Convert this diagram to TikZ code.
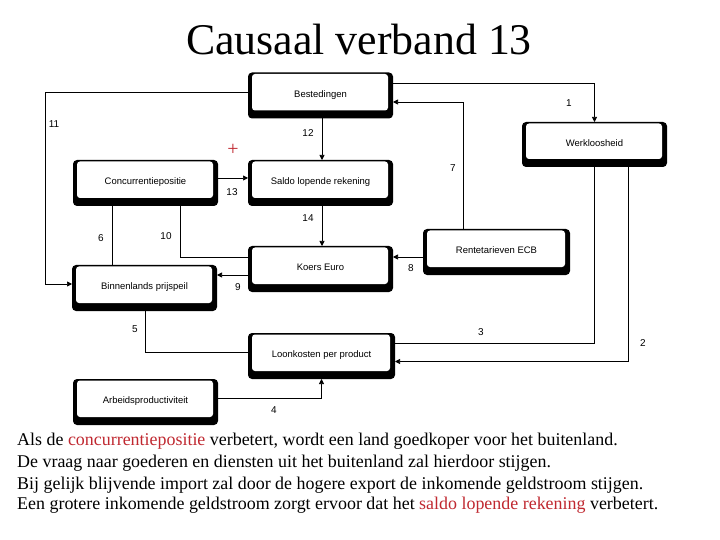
\documentclass[tikz,border=0pt]{standalone}
\usepackage{fontspec}
\setmainfont{Liberation Serif}
\newfontfamily\arialfont{Liberation Sans}
\usetikzlibrary{arrows.meta}
\definecolor{txtred}{RGB}{192,40,48}
\tikzset{
  bx/.style={rectangle, inner sep=0pt, outer sep=0pt, minimum height=46bp,
    font=\arialfont\fontsize{9.5}{11}\selectfont,
    path picture={
      \fill[black,rounded corners=4bp] (path picture bounding box.north west) rectangle (path picture bounding box.south east);
      \fill[white,rounded corners=3bp] ([shift={(4bp,-1.5bp)}]path picture bounding box.north west) rectangle ([shift={(-5bp,8bp)}]path picture bounding box.south east);
    }},
  con/.style={line width=0.7bp, draw=black},
  arr/.style={con, -{Triangle[length=5bp,width=5bp]}},
  num/.style={font=\arialfont\fontsize{10}{11}\selectfont, inner sep=0pt},
  para/.style={anchor=base west, inner sep=0pt, font=\fontsize{18}{20}\selectfont},
}
\newcommand{\rl}[1]{\raisebox{3bp}{#1}}
\begin{document}
\begin{tikzpicture}[x=1bp,y=-1bp]
\useasboundingbox (0,0) rectangle (720,540);
\fill[white] (0,0) rectangle (720,540);
% title
\node[anchor=base, inner sep=0pt, font=\fontsize{44}{48}\selectfont] (title) at (359,55) {Causaal verband 13};
% boxes
\node[bx, minimum width=145bp] (best)  at (320.5,95.5) {\rl{Bestedingen}};
\node[bx, minimum width=145bp] (saldo) at (320.5,183) {\rl{Saldo lopende rekening}};
\node[bx, minimum width=145bp] (conc)  at (145.5,183) {\rl{Concurrentiepositie}};
\node[bx, minimum width=145bp, minimum height=45bp] (werk) at (594.5,144.5) {\rl{Werkloosheid}};
\node[bx, minimum width=145bp] (koers) at (320.5,269) {\rl{Koers Euro}};
\node[bx, minimum width=145bp] (binn)  at (144.5,288) {\rl{Binnenlands prijspeil}};
\node[bx, minimum width=147bp] (rente) at (496.5,252) {\rl{Rentetarieven ECB}};
\node[bx, minimum width=147bp] (loon)  at (321.5,356) {\rl{Loonkosten per product}};
\node[bx, minimum width=145bp] (arb)   at (145.5,402) {\rl{Arbeidsproductiviteit}};
% connectors
\draw[arr] ([yshift=3.5bp]best.west) -- ++(-203,0) |- ([yshift=4bp]binn.west);
\draw[arr] ([xshift=1.5bp]best.south) -- ([xshift=1.5bp]saldo.north);
\draw[arr] ([yshift=12.5bp]best.east) -| (werk.north);
\coordinate (r7) at ([xshift=-33.5bp]rente.north);
\draw[arr] (r7) |- ([yshift=-6.5bp]best.east);
\draw[arr] ([yshift=5bp]conc.east) -- ([yshift=5bp]saldo.west);
\draw[arr] ([xshift=1.5bp]saldo.south) -- ([xshift=1.5bp]koers.north);
\coordinate (c6) at ([xshift=-33.5bp]conc.south);
\draw[con] (c6) -- (c6 |- binn.north);
\draw[con] ([yshift=12bp]koers.west) -| ([xshift=34.5bp]conc.south);
\coordinate (k9) at ([yshift=-6bp]koers.west);
\draw[arr] (k9) -- (k9 -| binn.east);
\coordinate (r8) at ([yshift=-5bp]rente.west);
\draw[arr] (r8) -- (r8 -| koers.east);
\draw[con] ([xshift=0.5bp]binn.south) |- ([yshift=4bp]loon.west);
\draw[con] (werk.south) |- ([yshift=12.5bp]loon.east);
\draw[arr] ([xshift=33.5bp]werk.south) |- ([yshift=-5.5bp]loon.east);
\draw[arr] ([yshift=4bp]arb.east) -| (loon.south);
% numbers
\node[num] (n1) at (569,103) {1};
\node[num] (n2) at (643,343) {2};
\node[num] (n3) at (481,332) {3};
\node[num] (n4) at (274,410) {4};
\node[num] (n5) at (135,329) {5};
\node[num] (n6) at (101,238) {6};
\node[num] (n7) at (453,168) {7};
\node[num] (n8) at (411,268) {8};
\node[num] (n9) at (238,287) {9};
\node[num] (n10) at (166,236) {10};
\node[num] (n11) at (54,124) {11};
\node[num] (n12) at (308,133) {12};
\node[num] (n13) at (232,192) {13};
\node[num] (n14) at (308,218) {14};
\node[inner sep=0pt, text=txtred, font=\fontsize{20}{22}\selectfont] (plus) at (233,150) {+};
% paragraph
\node[para] (l1) at (17,445) {Als de \textcolor{txtred}{concurrentiepositie} verbetert, wordt een land goedkoper voor het buitenland.};
\node[para] (l2) at (17,467) {De vraag naar goederen en diensten uit het buitenland zal hierdoor stijgen.};
\node[para] (l3) at (17,489) {Bij gelijk blijvende import zal door de hogere export de inkomende geldstroom stijgen.};
\node[para] (l4) at (17,509.5) {Een grotere inkomende geldstroom zorgt ervoor dat het \textcolor{txtred}{saldo lopende rekening} verbetert.};
\end{tikzpicture}
\end{document}
